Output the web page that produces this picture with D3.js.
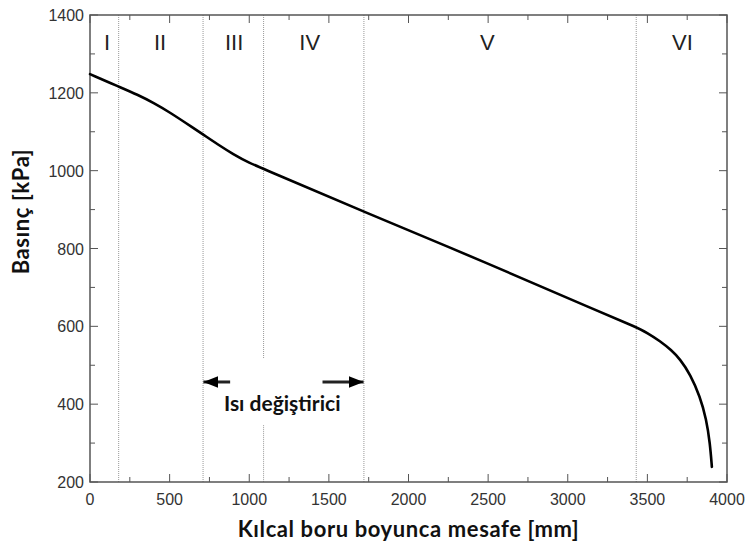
<!DOCTYPE html>
<html>
<head>
<meta charset="utf-8">
<script src="https://cdn.jsdelivr.net/npm/d3@7"></script>
<style>
  html, body { margin: 0; padding: 0; background: #fff; }
  svg { display: block; }
  .tick-label { font-family: "Liberation Sans", Arial, sans-serif; font-size: 16px; fill: #333; }
  .title { font-family: Lato, "Open Sans", sans-serif; font-weight: bold; font-size: 22px; fill: #111; letter-spacing: 0.6px; }
  .note { font-family: Lato, "Open Sans", sans-serif; font-weight: bold; font-size: 21px; fill: #111; }
  .roman { font-family: "Liberation Sans", Arial, sans-serif; font-size: 22px; fill: #222; }
</style>
</head>
<body>
<div id="chart"></div>
<script>
// Basınç profili boyunca kılcal boru
const distance = [0, 180, 300, 400, 500, 600, 710, 800, 900, 1000, 1100, 1720, 2500, 3200, 3430, 3500, 3580, 3650, 3705, 3770, 3830, 3870, 3893, 3905];
const pressure = [1248, 1216, 1195, 1174, 1150, 1123, 1093, 1068, 1042, 1020, 1003, 894, 762, 637, 598, 583, 562, 539, 516, 476, 420, 362, 300, 239];

const xTicks = [0, 500, 1000, 1500, 2000, 2500, 3000, 3500, 4000];
const yTicks = [200, 400, 600, 800, 1000, 1200, 1400];

// Bölge sınırları (noktalı çizgiler)
const boundaries = [180, 710, 1090, 1720, 3430];
const regionLabels = ["I", "II", "III", "IV", "V", "VI"];
const regionCenters = [107, 440, 905, 1380, 2495, 3720];

const W = 748, H = 547;
const margin = { top: 15, right: 21, bottom: 65, left: 90 };
const iw = W - margin.left - margin.right;
const ih = H - margin.top - margin.bottom;

const svg = d3.select("#chart").append("svg").attr("width", W).attr("height", H);
const g = svg.append("g").attr("transform", `translate(${margin.left},${margin.top})`);

const x = d3.scaleLinear().domain([0, 4000]).range([0, iw]);
const y = d3.scaleLinear().domain([200, 1400]).range([ih, 0]);

// Bölge çizgileri
boundaries.forEach(b => {
  const segs = b === 1090 ? [[1400, 518], [346, 200]] : [[1400, 200]];
  segs.forEach(([a, c]) => {
    g.append("line")
      .attr("x1", x(b)).attr("x2", x(b))
      .attr("y1", y(a)).attr("y2", y(c))
      .attr("stroke", "#999").attr("stroke-width", 1)
      .attr("stroke-dasharray", "1,1");
  });
});

// Eksen çerçevesi ve tikler (içe doğru, dört kenarda)
const minorX = d3.range(250, 4000, 500);
const minorY = d3.range(300, 1400, 200);
const tickColor = "#555";

function tickLines(vals, len, horizontal) {
  vals.forEach(v => {
    if (horizontal) {
      const px = x(v);
      g.append("line").attr("x1", px).attr("x2", px).attr("y1", ih).attr("y2", ih - len).attr("stroke", tickColor);
      g.append("line").attr("x1", px).attr("x2", px).attr("y1", 0).attr("y2", len).attr("stroke", tickColor);
    } else {
      const py = y(v);
      g.append("line").attr("x1", 0).attr("x2", len).attr("y1", py).attr("y2", py).attr("stroke", tickColor);
      g.append("line").attr("x1", iw).attr("x2", iw - len).attr("y1", py).attr("y2", py).attr("stroke", tickColor);
    }
  });
}
tickLines(xTicks, 8, true);
tickLines(minorX, 5, true);
tickLines(yTicks, 8, false);
tickLines(minorY, 5, false);

g.append("rect")
  .attr("width", iw).attr("height", ih)
  .attr("fill", "none").attr("stroke", "#555").attr("stroke-width", 1.5);

// Tik etiketleri
g.selectAll(".xl").data(xTicks).join("text")
  .attr("class", "tick-label")
  .attr("x", d => x(d)).attr("y", ih + 23)
  .attr("text-anchor", "middle").text(d => d);

g.selectAll(".yl").data(yTicks).join("text")
  .attr("class", "tick-label")
  .attr("x", -6).attr("y", d => y(d) + 6)
  .attr("text-anchor", "end").text(d => d);

// Eğri
g.append("path")
  .datum(distance.map((d, i) => [d, pressure[i]]))
  .attr("fill", "none").attr("stroke", "#000").attr("stroke-width", 2.6)
  .attr("stroke-linecap", "round")
  .attr("d", d3.line().x(d => x(d[0])).y(d => y(d[1])).curve(d3.curveBasis));

// Bölge numaraları
g.selectAll(".roman").data(regionLabels).join("text")
  .attr("class", "roman")
  .attr("x", (d, i) => x(regionCenters[i])).attr("y", y(1310))
  .attr("text-anchor", "middle").text(d => d);

// Isı değiştirici okları
const defs = svg.append("defs");
defs.append("marker").attr("id", "ah")
  .attr("viewBox", "0 0 10 10").attr("refX", 10).attr("refY", 5)
  .attr("markerWidth", 5).attr("markerHeight", 5).attr("orient", "auto")
  .attr("markerUnits", "strokeWidth")
  .append("path").attr("d", "M0,1 L10,5 L0,9 Z").attr("fill", "#000");

const arrowY = y(457);
g.append("line")
  .attr("x1", x(880)).attr("x2", x(712)).attr("y1", arrowY).attr("y2", arrowY)
  .attr("stroke", "#222").attr("stroke-width", 3).attr("marker-end", "url(#ah)");
g.append("line")
  .attr("x1", x(1460)).attr("x2", x(1718)).attr("y1", arrowY).attr("y2", arrowY)
  .attr("stroke", "#222").attr("stroke-width", 3).attr("marker-end", "url(#ah)");

g.append("text").attr("class", "note")
  .attr("x", x(1207)).attr("y", y(382))
  .attr("text-anchor", "middle").text("Isı değiştirici");

// Eksen başlıkları
svg.append("text").attr("class", "title")
  .attr("x", margin.left + x(2000)).attr("y", 537)
  .attr("text-anchor", "middle").text("Kılcal boru boyunca mesafe [mm]");

svg.append("text").attr("class", "title")
  .attr("transform", `translate(29,${margin.top + y(895)}) rotate(-90)`)
  .attr("text-anchor", "middle").text("Basınç [kPa]");
</script>
</body>
</html>
